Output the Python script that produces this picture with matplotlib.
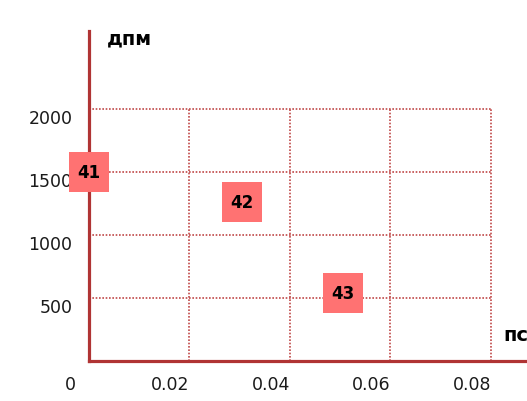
import matplotlib
matplotlib.use("Agg")
import matplotlib.pyplot as plt
import matplotlib.transforms as mtransforms

# Data
labels = ["41", "42", "43"]
x_vals = [0.0, 0.0304, 0.0505]
y_vals = [1500, 1262, 540]
x_ticks = [0, 0.02, 0.04, 0.06, 0.08]
x_tick_labels = ["0", "0.02", "0.04", "0.06", "0.08"]
y_ticks = [500, 1000, 1500, 2000]
y_tick_labels = ["500", "1000", "1500", "2000"]
x_title = "пс"
y_title = "дпм"

W, H = 527, 402
fig = plt.figure(figsize=(W / 100, H / 100), dpi=100)
ax = fig.add_axes([89 / W, (H - 362) / H, (W - 89) / W, (362 - 32) / H])
ax.set_xlim(0, 0.0872)
ax.set_ylim(0, 2619)

axis_col = "#b03434"
grid_col = "#c04848"
for s in ["top", "right"]:
    ax.spines[s].set_visible(False)
for s in ["left", "bottom"]:
    ax.spines[s].set_color(axis_col)
    ax.spines[s].set_linewidth(2.3)

# grid
ax.hlines(y_ticks, 0, max(x_ticks), colors=grid_col, linestyles=(0, (1, 1)), linewidth=1.2, zorder=1)
ax.vlines(x_ticks[1:], 0, max(y_ticks), colors=grid_col, linestyles=(0, (1, 1)), linewidth=1.2, zorder=1)

# ticks
ax.set_xticks(x_ticks)
ax.set_xticklabels(x_tick_labels)
ax.set_yticks(y_ticks)
ax.set_yticklabels(y_tick_labels)
ax.tick_params(axis="both", length=0, labelsize=12.5, colors="#1a1a1a")
ax.tick_params(axis="x", pad=10)
ax.tick_params(axis="y", pad=12)
offx = mtransforms.ScaledTranslation(-19 / 100, 0, fig.dpi_scale_trans)
offy = mtransforms.ScaledTranslation(0, -7 / 100, fig.dpi_scale_trans)
for lab in ax.get_xticklabels():
    lab.set_transform(lab.get_transform() + offx)
for lab in ax.get_yticklabels():
    lab.set_transform(lab.get_transform() + offy)

# points
ax.scatter(x_vals, y_vals, marker="s", s=29.5 ** 2, color="#ff7272", zorder=5, clip_on=False, linewidths=0)
for lx, ly, t in zip(x_vals, y_vals, labels):
    ax.text(lx, ly, t, ha="center", va="center", fontsize=12, fontweight="bold", color="black", zorder=6)

# titles
fig.text(107 / W, 1 - 39 / H, y_title, ha="left", va="center", fontsize=14, fontweight="bold")
fig.text(503 / W, 1 - 336 / H, x_title, ha="left", va="center", fontsize=14, fontweight="bold")

fig.savefig("out.png", dpi=100)
